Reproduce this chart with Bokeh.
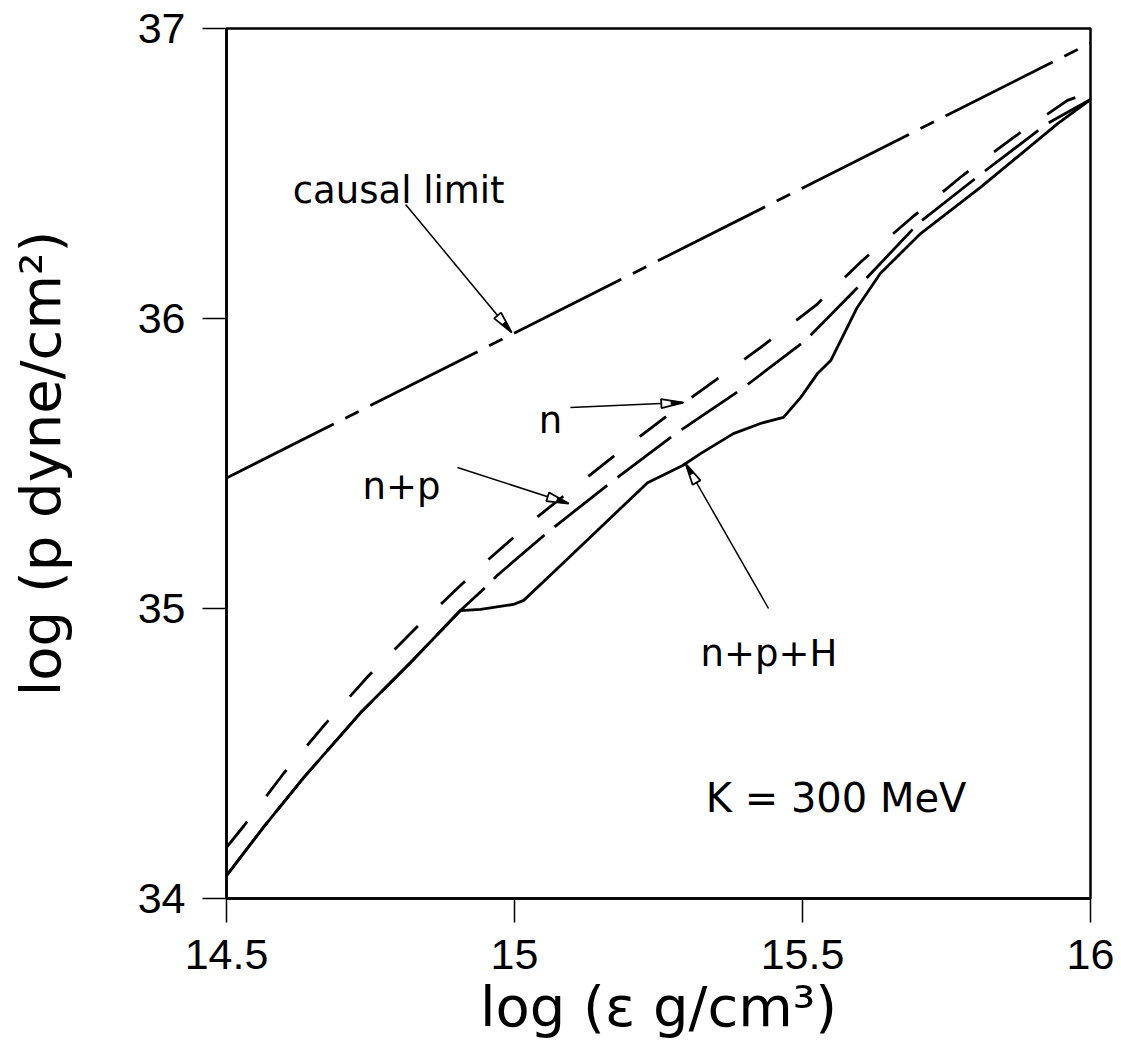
import math
from bokeh.plotting import figure
from bokeh.embed import file_html
from bokeh.resources import INLINE
from bokeh.models import Range1d, FixedTicker
from bokeh.core.properties import value

# ---- data ----
x_causal = [14.5, 16.0]
y_causal = [35.45, 36.95]

x_n = [14.5, 14.53, 14.599, 14.672, 14.747, 14.828, 14.906, 14.953, 15.036, 15.167,
       15.300, 15.432, 15.523, 15.604, 15.688, 15.778, 15.866, 15.960, 16.0]
y_n = [34.176, 34.25, 34.431, 34.603, 34.769, 34.931, 35.079, 35.166, 35.310, 35.517,
       35.717, 35.907, 36.045, 36.200, 36.345, 36.493, 36.624, 36.752, 36.78]

x_np = [14.5, 14.564, 14.634, 14.733, 14.823, 14.906, 14.953, 14.97, 15.057, 15.167,
        15.28, 15.396, 15.505, 15.604, 15.701, 15.813, 15.925, 16.0]
y_np = [34.079, 34.245, 34.417, 34.641, 34.821, 34.993, 35.079, 35.114, 35.262, 35.434,
        35.603, 35.759, 35.924, 36.124, 36.328, 36.503, 36.672, 36.755]

x_nph = [14.5, 14.564, 14.634, 14.733, 14.823, 14.906, 14.941, 14.998, 15.016, 15.080,
         15.231, 15.292, 15.323, 15.380, 15.427, 15.467, 15.497, 15.526, 15.549, 15.595,
         15.635, 15.705, 15.809, 15.943, 16.0]
y_nph = [34.079, 34.245, 34.417, 34.641, 34.821, 34.993, 34.997, 35.014, 35.028, 35.148,
         35.434, 35.493, 35.534, 35.603, 35.638, 35.659, 35.728, 35.810, 35.855, 36.038,
         36.155, 36.293, 36.452, 36.672, 36.755]

x_ticks = [14.5, 15, 15.5, 16]
x_tick_labels = ["14.5", "15", "15.5", "16"]
y_ticks = [34, 35, 36, 37]
y_tick_labels = ["34", "35", "36", "37"]

# annotations
label_text = ["causal limit", "n", "n+p", "n+p+H"]
label_x = [14.615, 15.042, 14.736, 15.323]
label_y = [36.441, 35.648, 35.421, 34.845]
k_text = ["K = 300 MeV"]
k_x = [15.332]
k_y = [34.348]

arrow_x0 = [14.811, 15.097, 14.901, 15.441]
arrow_y0 = [36.393, 35.693, 35.486, 35.0]
arrow_x1 = [14.995, 15.293, 15.094, 15.297]
arrow_y1 = [35.952, 35.710, 35.362, 35.5]

# ---- figure ----
FW, FH = 864, 870
p = figure(width=1121, height=1061, frame_width=FW, frame_height=FH,
           x_range=Range1d(14.5, 16.0), y_range=Range1d(34.0, 37.0),
           output_backend="svg", toolbar_location=None,
           min_border_left=226, min_border_right=31, min_border_top=28, min_border_bottom=163,
           background_fill_color="white", border_fill_color="white")
p.xgrid.visible = False
p.ygrid.visible = False
p.outline_line_color = "black"
p.outline_line_width = 2.5

p.xaxis.ticker = FixedTicker(ticks=x_ticks)
p.yaxis.ticker = FixedTicker(ticks=y_ticks)
p.xaxis.major_label_overrides = dict(zip(x_ticks, x_tick_labels))
p.yaxis.major_label_overrides = dict(zip(y_ticks, y_tick_labels))
for ax in (p.xaxis[0], p.yaxis[0]):
    ax.major_tick_out = 24
    ax.major_tick_in = 0
    ax.minor_tick_line_color = None
    ax.major_tick_line_width = 1.5
    ax.major_tick_line_color = "black"
    ax.axis_line_width = 2.5
    ax.axis_line_color = "black"
    ax.major_label_text_font = "Liberation Sans"
    ax.major_label_text_font_size = "43px"
    ax.major_label_text_color = "black"
    ax.major_label_standoff = 17
    ax.axis_label_text_font = "DejaVu Sans"
    ax.axis_label_text_font_size = "56px"
    ax.axis_label_text_font_style = "normal"
    ax.axis_label_text_color = "black"

p.xaxis.axis_label = "log (\u03b5 g/cm\u00b3)"
p.yaxis.axis_label = "log (p dyne/cm\u00b2)"
p.xaxis.axis_label_standoff = 2
p.yaxis.axis_label_standoff = 62

# ---- curves ----
p.line(x_causal, y_causal, line_color="black", line_width=2.8, line_dash="120 13 15 13")
p.line(x_np, y_np, line_color="black", line_width=2.8, line_dash="67 13")
p.line(x_n, y_n, line_color="black", line_width=2.8, line_dash="33 32")
p.line(x_nph, y_nph, line_color="black", line_width=2.8)

# ---- arrows ----
sx = FW / 1.5
sy = FH / 3.0
p.segment(x0=arrow_x0, y0=arrow_y0, x1=arrow_x1, y1=arrow_y1, line_color="black", line_width=1.5)

head_xs, head_ys, tip_xs, tip_ys = [], [], [], []
L, W = 22.0, 4.5
for x0, y0, x1, y1 in zip(arrow_x0, arrow_y0, arrow_x1, arrow_y1):
    dxp = (x1 - x0) * sx
    dyp = (y1 - y0) * sy
    d = math.hypot(dxp, dyp)
    ux, uy = dxp / d, dyp / d
    nx, ny = -uy, ux
    def pt(a, b):
        return (x1 + (a * -ux + b * nx) / sx, y1 + (a * -uy + b * ny) / sy)
    tri = [pt(0, 0), pt(L, W), pt(L, -W)]
    head_xs.append([t[0] for t in tri])
    head_ys.append([t[1] for t in tri])
    f = 0.55
    tri2 = [pt(0, 0), pt(L * f, W * f), pt(L * f, -W * f)]
    tip_xs.append([t[0] for t in tri2])
    tip_ys.append([t[1] for t in tri2])

p.patches(head_xs, head_ys, fill_color="white", line_color="black", line_width=1.8)
p.patches(tip_xs, tip_ys, fill_color="black", line_color="black", line_width=1.0)

# ---- labels ----
p.text(x=label_x, y=label_y, text=label_text, text_font=value("DejaVu Sans"),
       text_font_size="37px", text_baseline="alphabetic", text_align="left", text_color="black")
p.text(x=k_x, y=k_y, text=k_text, text_font=value("DejaVu Sans"),
       text_font_size="40px", text_baseline="alphabetic", text_align="left", text_color="black")

open("out.html", "w").write(file_html(p, INLINE))
